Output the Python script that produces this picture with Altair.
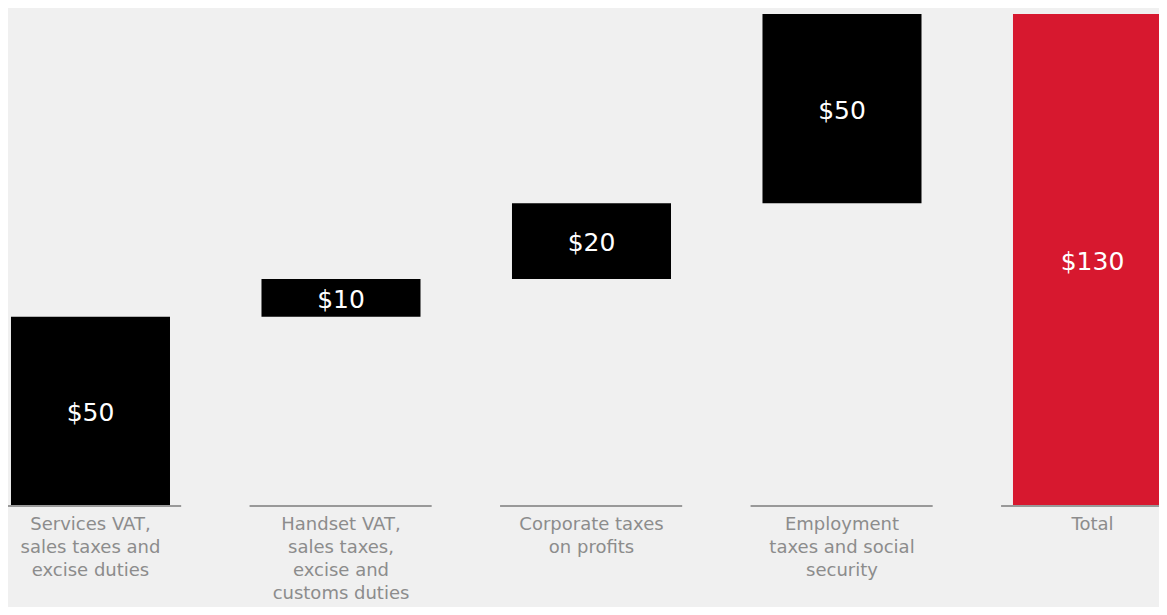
import altair as alt
import pandas as pd

categories = [
    "Services VAT,\nsales taxes and\nexcise duties",
    "Handset VAT,\nsales taxes,\nexcise and\ncustoms duties",
    "Corporate taxes\non profits",
    "Employment\ntaxes and social\nsecurity",
    "Total",
]
values = [50, 10, 20, 50, 130]
value_labels = ["$50", "$10", "$20", "$50", "$130"]
is_total = [False, False, False, False, True]

rows = []
running = 0
for i, (c, v, lab, tot) in enumerate(zip(categories, values, value_labels, is_total)):
    if tot:
        start, end = 0, v
    else:
        start, end = running, running + v
        running = end
    rows.append({
        "idx": i, "cat": c, "start": start, "end": end, "mid": (start + end) / 2,
        "label": lab, "kind": "Total" if tot else "Step",
        "bx0": i - 0.3174, "bx1": i + 0.3174,
        "lx0": i - 0.365, "lx1": i + 0.362,
    })
df = pd.DataFrame(rows)

W, H = 1151, 599
xscale = alt.Scale(domain=[-0.3293, 4.2655], nice=False, zero=False)
yscale = alt.Scale(domain=[-26.68, 131.57], nice=False, zero=False)

base = alt.Chart(df)

bars = base.mark_bar(clip=False).encode(
    x=alt.X("bx0:Q", scale=xscale, axis=None),
    x2="bx1:Q",
    y=alt.Y("start:Q", scale=yscale, axis=None),
    y2="end:Q",
    color=alt.Color("kind:N", scale=alt.Scale(domain=["Step", "Total"], range=["#000000", "#d7182f"]), legend=None),
)

baselines = base.mark_rule(color="#999999", strokeWidth=2).encode(
    x=alt.X("lx0:Q", scale=xscale, axis=None),
    x2="lx1:Q",
    y=alt.Y("yb:Q", scale=yscale, axis=None),
).transform_calculate(yb="0")

vlabels = base.mark_text(color="white", fontSize=25, font="DejaVu Sans", baseline="middle", align="center", dy=2).encode(
    x=alt.X("idx:Q", scale=xscale, axis=None),
    y=alt.Y("mid:Q", scale=yscale, axis=None),
    text="label:N",
)

clabels = base.mark_text(color="#8c8c8c", fontSize=18, font="DejaVu Sans", baseline="top", align="center",
                         lineBreak="\n", lineHeight=23, dy=10).encode(
    x=alt.X("idx:Q", scale=xscale, axis=None),
    y=alt.Y("yb:Q", scale=yscale, axis=None),
    text="cat:N",
).transform_calculate(yb="0")

chart = alt.layer(bars, baselines, vlabels, clabels).properties(
    width=W, height=H, background="#f0f0f0",
    autosize=alt.AutoSizeParams(type="none"), padding=0,
).configure_view(stroke=None)

chart.save("out.html", embed_options={"renderer": "svg", "actions": False})
